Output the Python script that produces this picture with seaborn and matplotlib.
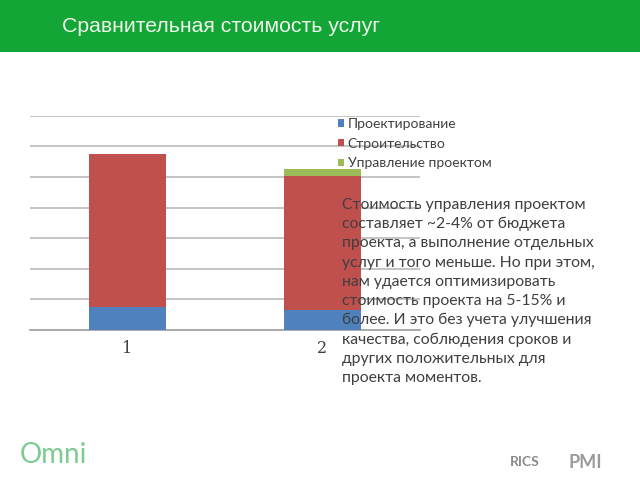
import matplotlib
matplotlib.use("Agg")
import matplotlib.pyplot as plt
from matplotlib.patches import Patch, Rectangle
import seaborn as sns
import pandas as pd

# ---- data ----
categories = ["1", "2"]
design = [0.76, 0.65]          # Проектирование
construction = [4.99, 4.38]    # Строительство
management = [0.0, 0.24]       # Управление проектом
series_names = ["Проектирование", "Строительство", "Управление проектом"]
series_colors = ["#4f81bd", "#c0504d", "#9bbb59"]
title = "Сравнительная стоимость услуг"
paragraph = [
    "Стоимость управления проектом",
    "составляет ~2-4% от бюджета",
    "проекта, а выполнение отдельных",
    "услуг и того меньше. Но при этом,",
    "нам удается оптимизировать",
    "стоимость проекта на 5-15% и",
    "более. И это без учета улучшения",
    "качества, соблюдения сроков и",
    "других положительных для",
    "проекта моментов.",
]

sns.set_style("white")
plt.rcParams["font.family"] = ["Lato", "DejaVu Sans"]

df = pd.DataFrame({
    "cat": categories,
    "d": design,
    "c": construction,
    "m": management,
})
df["lvl1"] = df["d"]
df["lvl2"] = df["d"] + df["c"]
df["lvl3"] = df["d"] + df["c"] + df["m"]

fig = plt.figure(figsize=(6.4, 4.8), dpi=100)
fig.patch.set_facecolor("white")

# header band
fig.patches.append(Rectangle((0, 1 - 52 / 480), 1, 52 / 480, transform=fig.transFigure,
                             facecolor="#14a537", edgecolor="none", zorder=0))
fig.text(62 / 640, 1 - 27 / 480, title, color="#eef7ea", fontsize=15.3,
         family=["Liberation Sans", "DejaVu Sans"], va="center", ha="left")

ax = fig.add_axes([30 / 640, 150 / 480, 390 / 640, 214.3 / 480])
bw = 0.395
for col, color in zip(["lvl3", "lvl2", "lvl1"], series_colors[::-1]):
    sns.barplot(data=df, x="cat", y=col, color=color, width=bw, ax=ax,
                saturation=1, linewidth=0, zorder=3)

ax.set_xlim(-0.5, 1.5)
ax.set_ylim(0, 7)
ax.set_yticks(range(0, 8))
ax.yaxis.grid(True, color="#bfbfbf", linewidth=1.3, zorder=0)
ax.set_axisbelow(True)
ax.tick_params(axis="y", left=False, labelleft=False)
for s in ["top", "right", "left"]:
    ax.spines[s].set_visible(False)
ax.spines["bottom"].set_color("#a6a6a6")
ax.spines["bottom"].set_linewidth(1.3)
ax.set_xlabel("")
ax.set_ylabel("")
ax.set_xticks([0, 1])
ax.set_xticklabels(categories, fontsize=11.5, color="#404040",
                   family=["DejaVu Serif"])
ax.tick_params(axis="x", which="major", length=0, pad=7)
ax.set_xticks([-0.5, 0.5, 1.5], minor=True)
ax.tick_params(axis="x", which="minor", length=4, color="#a6a6a6", width=1.2, direction="out")
ax.patch.set_alpha(0)

handles = [Patch(facecolor=c, edgecolor="none") for c in series_colors]
fig.legend(handles, series_names, loc="upper left",
           bbox_to_anchor=(331 / 640, 1 - 111 / 480), bbox_transform=fig.transFigure,
           frameon=False, fontsize=10, labelcolor="#404040", borderpad=0,
           handlelength=0.45, handleheight=0.45, handletextpad=0.25, labelspacing=0.55)

for i, line in enumerate(paragraph):
    fig.text(342 / 640, 1 - (205 + i * 19.2) / 480, line, fontsize=11.3,
             color="#3f3f3f", va="center", ha="left", zorder=10)

# footer logos as text
fig.text(20 / 640, 1 - 455 / 480, "Omni", fontsize=20, color="#7ccb92",
         family=["Lato", "DejaVu Sans"], va="center", ha="left")
fig.text(510 / 640, 1 - 462 / 480, "RICS", fontsize=10, color="#8a8a8a",
         fontweight="bold", va="center", ha="left")
fig.text(568 / 640, 1 - 462 / 480, "PMI", fontsize=13, color="#9a9a9a",
         fontweight="bold", va="center", ha="left")

fig.savefig("out.png", dpi=100)
